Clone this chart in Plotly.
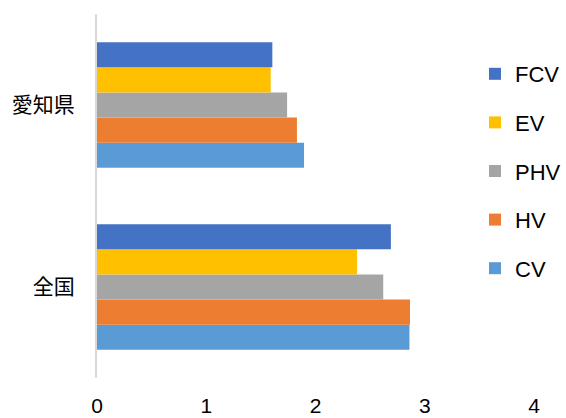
import plotly.graph_objects as go

categories = ["全国", "愛知県"]
series_names = ["CV", "HV", "PHV", "EV", "FCV"]
series_colors = ["#5B9BD5", "#ED7D31", "#A5A5A5", "#FFC000", "#4472C4"]
legend_ranks = [5, 4, 3, 2, 1]
cv = [2.86, 1.895]
hv = [2.865, 1.83]
phv = [2.62, 1.74]
ev = [2.38, 1.59]
fcv = [2.69, 1.605]
x_ticks = [0, 1, 2, 3, 4]

values = [cv, hv, phv, ev, fcv]
font_family = "Liberation Sans, Arial, Noto Sans CJK JP, sans-serif"

fig = go.Figure()
for name, vals, col, rk in zip(series_names, values, series_colors, legend_ranks):
    fig.add_trace(go.Bar(
        y=categories, x=vals, name=name, orientation="h",
        marker=dict(color=col, line=dict(width=0)),
        legendgroup=name, legendrank=rk,
    ))

fig.update_layout(
    width=566, height=418,
    margin=dict(l=97, r=32, t=14, b=40, autoexpand=False),
    paper_bgcolor="white", plot_bgcolor="white",
    barmode="group", bargap=0.31, bargroupgap=0,
    font=dict(family=font_family, size=20, color="#000000"),
    showlegend=True,
    legend=dict(
        xref="container", yref="container",
        x=475 / 566, xanchor="left",
        y=1 - 53 / 418, yanchor="top",
        traceorder="grouped",
        tracegroupgap=17,
        maxheight=400,
        font=dict(size=22, color="#000000"),
        bgcolor="rgba(0,0,0,0)",
    ),
    xaxis=dict(
        range=[0, 4], tickvals=x_ticks, ticktext=[str(t) for t in x_ticks],
        showgrid=False, zeroline=False, showline=False,
        ticks="", ticklabelstandoff=13,
        tickfont=dict(size=21),
    ),
    yaxis=dict(
        showgrid=False, zeroline=False,
        showline=True, linecolor="#D9D9D9", linewidth=2,
        ticks="", ticklabelstandoff=16,
        tickfont=dict(size=21),
    ),
)

fig.write_html("out.html")
